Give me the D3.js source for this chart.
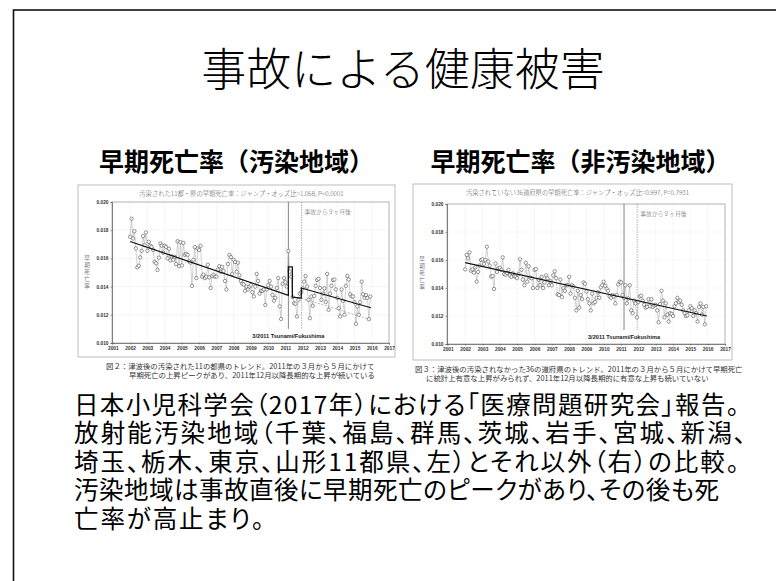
<!DOCTYPE html>
<html>
<head>
<meta charset="utf-8">
<script src="https://cdn.jsdelivr.net/npm/d3@7"></script>
<style>
  body { margin: 0; background: #fff; }
  svg { display: block; font-family: "Noto Sans CJK JP", sans-serif; }
  .palt { font-feature-settings: "palt"; }
</style>
</head>
<body>
<svg id="slide" width="776" height="581"></svg>
<script>
// tick labels
const xTicks = [2001, 2002, 2003, 2004, 2005, 2006, 2007, 2008, 2009, 2010, 2011, 2012, 2013, 2014, 2015, 2016, 2017]
const yTicks = [0.010, 0.012, 0.014, 0.016, 0.018, 0.020]
const firstYear = 2002

// monthly early-death rate, Jan 2002 .. Dec 2015 (contaminated 11 prefectures)
const leftValues = [
  0.01753, 0.01882, 0.01741, 0.01793, 0.01671, 0.01536, 0.01548, 0.01607, 0.01654, 0.01758, 0.01694, 0.01784,
  0.01654, 0.01718, 0.01690, 0.01682, 0.01660, 0.01576, 0.01565, 0.01518, 0.01605, 0.01706, 0.01690, 0.01640,
  0.01690, 0.01682, 0.01600, 0.01668, 0.01585, 0.01615, 0.01590, 0.01610, 0.01560, 0.01722, 0.01545, 0.01715,
  0.01550, 0.01710, 0.01625, 0.01632, 0.01625, 0.01580, 0.01570, 0.01405, 0.01590, 0.01680, 0.01460, 0.01670,
  0.01660, 0.01690, 0.01470, 0.01485, 0.01460, 0.01470, 0.01555, 0.01465, 0.01390, 0.01475, 0.01485, 0.01470,
  0.01470, 0.01520, 0.01545, 0.01505, 0.01540, 0.01510, 0.01440, 0.01380, 0.01560, 0.01625, 0.01610, 0.01490,
  0.01590, 0.01575, 0.01505, 0.01570, 0.01480, 0.01440, 0.01420, 0.01415, 0.01370, 0.01400, 0.01380, 0.01400,
  0.01410, 0.01360, 0.01330, 0.01400, 0.01490, 0.01440, 0.01350, 0.01370, 0.01370, 0.01380, 0.01270, 0.01380,
  0.01410, 0.01440, 0.01400, 0.01340, 0.01300, 0.01320, 0.01390, 0.01460, 0.01260, 0.01170, 0.01420, 0.01460,
  0.01430, 0.01400, 0.01652, 0.01506, 0.01470, 0.01325, 0.01282, 0.01278, 0.01188, 0.01306, 0.01350, 0.01360,
  0.01388, 0.01435, 0.01475, 0.01400, 0.01306, 0.01176, 0.01330, 0.01264, 0.01334, 0.01405, 0.01447, 0.01455,
  0.01390, 0.01306, 0.01350, 0.01388, 0.01290, 0.01490, 0.01235, 0.01350, 0.01405, 0.01447, 0.01450, 0.01380,
  0.01320, 0.01247, 0.01188, 0.01380, 0.01300, 0.01200, 0.01405, 0.01475, 0.01450, 0.01345, 0.01330, 0.01330,
  0.01290, 0.01136, 0.01260, 0.01200, 0.01290, 0.01435, 0.01345, 0.01320, 0.01340, 0.01320, 0.01169, 0.01330
]

// monthly early-death rate, Jan 2002 .. Dec 2015 (other 36 prefectures)
const rightValues = [
  0.01533, 0.01636, 0.01612, 0.01655, 0.01524, 0.01533, 0.01510, 0.01548, 0.01445, 0.01515, 0.01560, 0.01600,
  0.01605, 0.01572, 0.01600, 0.01695, 0.01590, 0.01560, 0.01481, 0.01485, 0.01393, 0.01575, 0.01515, 0.01540,
  0.01545, 0.01530, 0.01619, 0.01500, 0.01495, 0.01508, 0.01530, 0.01490, 0.01480, 0.01505, 0.01485, 0.01480,
  0.01470, 0.01500, 0.01605, 0.01530, 0.01460, 0.01420, 0.01580, 0.01445, 0.01555, 0.01475, 0.01470, 0.01400,
  0.01530, 0.01535, 0.01400, 0.01460, 0.01420, 0.01480, 0.01400, 0.01440, 0.01490, 0.01470, 0.01420, 0.01450,
  0.01420, 0.01490, 0.01520, 0.01470, 0.01355, 0.01350, 0.01460, 0.01335, 0.01400, 0.01380, 0.01420, 0.01420,
  0.01480, 0.01360, 0.01420, 0.01410, 0.01330, 0.01240, 0.01380, 0.01260, 0.01350, 0.01320, 0.01440, 0.01430,
  0.01375, 0.01320, 0.01290, 0.01240, 0.01360, 0.01290, 0.01300, 0.01330, 0.01370, 0.01330, 0.01405, 0.01420,
  0.01445, 0.01415, 0.01395, 0.01380, 0.01340, 0.01330, 0.01350, 0.01340, 0.01290, 0.01350, 0.01425, 0.01445,
  0.01440, 0.01350, 0.01330, 0.01420, 0.01290, 0.01325, 0.01420, 0.01240, 0.01220, 0.01310, 0.01290, 0.01190,
  0.01300, 0.01340, 0.01345, 0.01310, 0.01280, 0.01260, 0.01265, 0.01320, 0.01270, 0.01320, 0.01265, 0.01275,
  0.01280, 0.01240, 0.01155, 0.01285, 0.01380, 0.01310, 0.01190, 0.01290, 0.01210, 0.01160, 0.01220, 0.01215,
  0.01200, 0.01270, 0.01290, 0.01330, 0.01300, 0.01310, 0.01280, 0.01240, 0.01220, 0.01200, 0.01205, 0.01240,
  0.01270, 0.01255, 0.01200, 0.01240, 0.01220, 0.01160, 0.01265, 0.01290, 0.01210, 0.01265, 0.01140, 0.01270
]

// fitted trend lines [year, rate]
const leftTrend = [[2002.0, 0.01720], [2011.17, 0.01338], [2011.17, 0.01540], [2011.40, 0.01540],
  [2011.40, 0.01325], [2011.92, 0.01318], [2011.92, 0.01390], [2015.95, 0.01250]]
const leftNoJump = [[2011.92, 0.01318], [2015.95, 0.01165]]
const rightTrend = [[2002.0, 0.01581], [2015.95, 0.01200]]
const quakeYear = 2011.17
const nineMonthsYear = 2011.93
const markerBottom = 0.0110

const bodyLines = [
  "日本小児科学会（2017年）における「医療問題研究会」報告。",
  "放射能汚染地域（千葉、福島、群馬、茨城、岩手、宮城、新潟、",
  "埼玉、栃木、東京、山形11都県、左）とそれ以外（右）の比較。",
  "汚染地域は事故直後に早期死亡のピークがあり、その後も死",
  "亡率が高止まり。"
]

const svg = d3.select("#slide")
svg.append("rect").attr("width", 776).attr("height", 581).attr("fill", "#fff")
svg.append("rect")
  .attr("x", 13.5).attr("y", 10).attr("width", 800).attr("height", 600)
  .attr("fill", "none").attr("stroke", "#111").attr("stroke-width", 1.6)

svg.append("text")
  .attr("x", 403).attr("y", 66)
  .attr("text-anchor", "middle").attr("dominant-baseline", "central")
  .attr("font-size", 45).attr("font-weight", 300).attr("fill", "#000")
  .text("事故による健康被害")

svg.append("text")
  .attr("x", 236.5).attr("y", 160)
  .attr("text-anchor", "middle").attr("dominant-baseline", "central")
  .attr("font-size", 25).attr("font-weight", 700)
  .text("早期死亡率（汚染地域）")
svg.append("text")
  .attr("x", 580.5).attr("y", 160)
  .attr("text-anchor", "middle").attr("dominant-baseline", "central")
  .attr("font-size", 25).attr("font-weight", 700)
  .text("早期死亡率（非汚染地域）")

function drawPanel(o) {
  const g = svg.append("g")
  g.append("rect")
    .attr("x", o.frame[0]).attr("y", o.frame[1]).attr("width", o.frame[2]).attr("height", o.frame[3])
    .attr("fill", "#fff").attr("stroke", "#bdbdbd").attr("stroke-width", 1)

  const x = d3.scaleLinear().domain([2000.95, 2017]).range([o.plot[0], o.plot[1]])
  const y = d3.scaleLinear().domain([0.010, 0.020]).range([o.plot[3], o.plot[2]])

  // grid
  g.append("g").selectAll("line").data(xTicks).join("line")
    .attr("x1", d => x(d)).attr("x2", d => x(d))
    .attr("y1", o.plot[2]).attr("y2", o.plot[3])
    .attr("stroke", "#ececec").attr("stroke-width", 0.5)
  g.append("g").selectAll("line").data(yTicks).join("line")
    .attr("x1", o.plot[0]).attr("x2", o.plot[1])
    .attr("y1", d => y(d)).attr("y2", d => y(d))
    .attr("stroke", "#ececec").attr("stroke-width", 0.5)

  g.append("rect")
    .attr("x", o.plot[0]).attr("y", o.plot[2])
    .attr("width", o.plot[1] - o.plot[0]).attr("height", o.plot[3] - o.plot[2])
    .attr("fill", "none").attr("stroke", "#888").attr("stroke-width", 0.6)

  const ax = g.append("g").attr("transform", `translate(0,${o.plot[3]})`)
    .call(d3.axisBottom(x).tickValues(xTicks).tickFormat(d3.format("d")).tickSize(1.5).tickPadding(2.5))
  const ay = g.append("g").attr("transform", `translate(${o.plot[0]},0)`)
    .call(d3.axisLeft(y).tickValues(yTicks).tickFormat(d3.format(".3f")).tickSize(1.5).tickPadding(2))
  for (const a of [ax, ay]) {
    a.select(".domain").attr("stroke", "#444").attr("stroke-width", 0.6)
    a.selectAll(".tick line").attr("stroke", "#444").attr("stroke-width", 0.5)
    a.selectAll(".tick text").attr("font-family", "Liberation Sans, sans-serif")
      .attr("font-size", 4.8).attr("font-weight", 700).attr("fill", "#333")
  }

  // event markers
  g.append("line")
    .attr("x1", x(quakeYear)).attr("x2", x(quakeYear))
    .attr("y1", o.plot[2]).attr("y2", y(markerBottom))
    .attr("stroke", "#666").attr("stroke-width", 0.8)
  g.append("line")
    .attr("x1", x(nineMonthsYear)).attr("x2", x(nineMonthsYear))
    .attr("y1", o.plot[2]).attr("y2", y(markerBottom))
    .attr("stroke", "#888").attr("stroke-width", 0.6).attr("stroke-dasharray", "1.5,1")

  const pts = o.values.map((v, i) => [firstYear + i / 12, v])
  g.append("path").datum(pts)
    .attr("d", d3.line().x(d => x(d[0])).y(d => y(d[1])))
    .attr("fill", "none").attr("stroke", "#9a9a9a").attr("stroke-width", 0.45)

  if (o.noJump) {
    g.append("path").datum(o.noJump)
      .attr("d", d3.line().x(d => x(d[0])).y(d => y(d[1])))
      .attr("fill", "none").attr("stroke", "#888").attr("stroke-width", 0.6)
      .attr("stroke-dasharray", "2,1.5")
  }

  g.append("g").selectAll("circle").data(pts).join("circle")
    .attr("cx", d => x(d[0])).attr("cy", d => y(d[1])).attr("r", 1.7)
    .attr("fill", "#fff").attr("stroke", "#333").attr("stroke-width", 0.5)

  g.append("path").datum(o.trend)
    .attr("d", d3.line().x(d => x(d[0])).y(d => y(d[1])))
    .attr("fill", "none").attr("stroke", "#111").attr("stroke-width", 1.25)

  // texts
  g.append("text")
    .attr("x", (o.frame[0] * 2 + o.frame[2]) / 2 + 5).attr("y", o.frame[1] + 8.5)
    .attr("text-anchor", "middle").attr("dominant-baseline", "central")
    .attr("font-size", 6.3).attr("fill", "#555").attr("font-weight", 300)
    .text(o.title)
  g.append("text")
    .attr("x", x(nineMonthsYear) + 3).attr("y", o.plot[2] + 9)
    .attr("dominant-baseline", "central")
    .attr("font-size", 5.8).attr("fill", "#666").attr("font-weight", 300)
    .text("事故から９ヶ月後")
  g.append("text")
    .attr("x", x(quakeYear)).attr("y", o.plot[3] - 7)
    .attr("text-anchor", "middle").attr("dominant-baseline", "central")
    .attr("font-family", "Liberation Sans, sans-serif")
    .attr("font-size", 5.6).attr("font-weight", 700).attr("fill", "#222")
    .text("3/2011 Tsunami/Fukushima")
  const yl = g.append("text")
    .attr("x", o.frame[0] + 9).attr("y", (o.plot[2] + o.plot[3]) / 2 - 13)
    .attr("text-anchor", "middle")
    .attr("font-size", 5.6).attr("fill", "#777")
  "早期死亡率".split("").forEach((c, i) => {
    yl.append("tspan").attr("x", o.frame[0] + 9).attr("dy", i ? 7 : 0).text(c)
  })

  o.caption.forEach((line, i) => {
    g.append("text")
      .attr("x", o.capX[i]).attr("y", o.frame[1] + o.frame[3] + 8 + i * 9.3)
      .attr("dominant-baseline", "central")
      .attr("font-size", 7.4).attr("fill", "#333")
      .text(line)
  })
}

drawPanel({
  frame: [78, 185, 317, 172],
  plot: [112, 389, 202, 343],
  values: leftValues,
  trend: leftTrend,
  noJump: leftNoJump,
  title: "汚染された11都・県の早期死亡率：ジャンプ・オッズ比=1.068,  P<0.0001",
  caption: ["図２：津波後の汚染された11の都県のトレンド。2011年の３月から５月にかけて",
    "早期死亡の上昇ピークがあり、2011年12月以降長期的な上昇が続いている"],
  capX: [106, 129]
})

drawPanel({
  frame: [413, 184, 319, 176],
  plot: [447, 725, 204, 344],
  values: rightValues,
  trend: rightTrend,
  noJump: null,
  title: "汚染されていない36道府県の早期死亡率：ジャンプ・オッズ比=0.997,  P=0.7931",
  caption: ["図３：津波後の汚染されなかった36の道府県のトレンド。2011年の３月から５月にかけて早期死亡",
    "に統計上有意な上昇がみられず、2011年12月以降長期的に有意な上昇も続いていない"],
  capX: [415, 426]
})

// widths the lines take in the slide
const lineWidths = [665, 672, 665, 645, 190]
bodyLines.forEach((line, i) => {
  svg.append("text").attr("class", "palt")
    .attr("x", 74).attr("y", 403 + i * 28.5)
    .attr("dominant-baseline", "central")
    .attr("font-size", 24.5).attr("fill", "#000")
    .attr("textLength", lineWidths[i]).attr("lengthAdjust", "spacing")
    .text(line)
})
</script>
</body>
</html>
